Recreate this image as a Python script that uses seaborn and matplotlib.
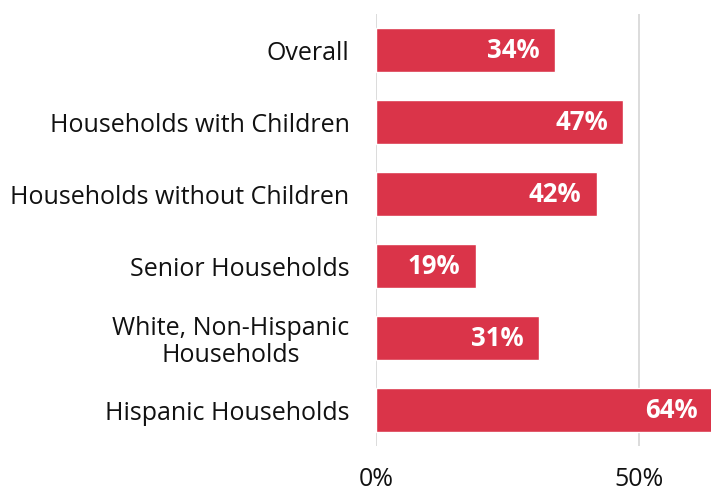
import matplotlib
matplotlib.use("Agg")
import matplotlib.pyplot as plt
import seaborn as sns
import pandas as pd

categories = ["Overall", "Households with Children", "Households without Children",
              "Senior Households", "White, Non-Hispanic\nHouseholds", "Hispanic Households"]
values = [34, 47, 42, 19, 31, 64]
tick_values = [0, 50]
tick_labels = ["0%", "50%"]

sns.set_theme(style="white")
plt.rcParams['font.family'] = ['Open Sans', 'DejaVu Sans']

df = pd.DataFrame({"cat": categories, "val": values})

fig = plt.figure(figsize=(7.11, 4.93), dpi=100)
ax = fig.add_axes([376/711, 1 - 446/493, 1 - 376/711, (446 - 14)/493])
sns.barplot(data=df, x="val", y="cat", color="#DA3449", saturation=1, width=0.61, ax=ax, orient="h")

ax.set_xlim(0, 63.7)
ax.set_xticks(tick_values)
ax.set_xticklabels(tick_labels)
ax.set_xlabel("")
ax.set_ylabel("")
for s in ax.spines.values():
    s.set_visible(False)
ax.grid(axis="x", color="#d9d9d9", linewidth=1.3)
ax.set_axisbelow(True)
ax.tick_params(axis="x", length=0, pad=15, labelsize=18, colors="#111111")
ax.tick_params(axis="y", length=0, pad=19, labelsize=18, colors="#111111")
for lbl in ax.get_yticklabels():
    lbl.set_multialignment("center")
    lbl.set_linespacing(1.1)

for p, v in zip(ax.patches, values):
    y = p.get_y() + p.get_height() / 2
    ax.annotate(f"{v}%", xy=(p.get_width(), y), xytext=(-11, 0), textcoords="offset points",
                ha="right", va="center", color="white", fontsize=18.5, fontweight="bold",
                annotation_clip=False)

fig.savefig("out.png", dpi=100)
